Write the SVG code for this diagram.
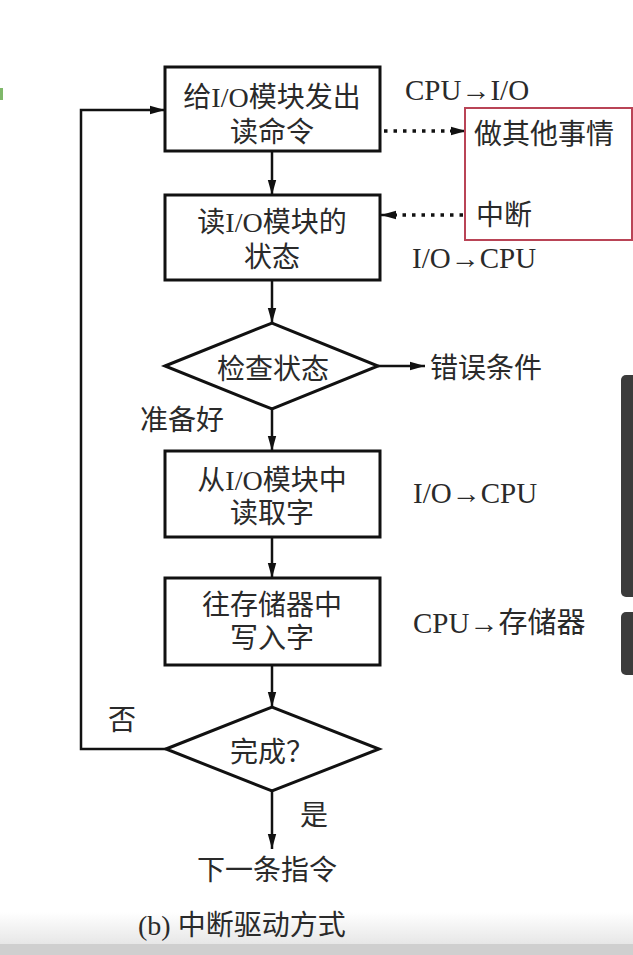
<svg xmlns="http://www.w3.org/2000/svg" width="633" height="955" viewBox="0 0 633 955">
<defs>
<style>
.t{font-family:"Liberation Serif","Noto Sans CJK SC",serif;font-size:28px;fill:#2a2a2a;dominant-baseline:central}
.s{font-size:29px}
.c{text-anchor:middle}
.box{fill:#fff;stroke:#111;stroke-width:3}
.ln{fill:none;stroke:#111;stroke-width:2.5}
.dot{fill:none;stroke:#111;stroke-width:3.5;stroke-dasharray:3.5 6}
</style>
<marker id="ah" markerUnits="userSpaceOnUse" markerWidth="16" markerHeight="10" refX="15" refY="5" orient="auto">
<path d="M0,0.8 L15,5 L0,9.2 z" fill="#111"/>
</marker>
<linearGradient id="bg" x1="0" y1="0" x2="0" y2="1">
<stop offset="0" stop-color="#fff"/>
<stop offset="1" stop-color="#e6e6e6"/>
</linearGradient>
</defs>
<rect width="633" height="955" fill="#fff"/>
<rect x="0" y="912" width="633" height="33" fill="url(#bg)"/>
<rect x="0" y="944" width="633" height="11" fill="#cfcfcf"/>
<rect x="621" y="375" width="20" height="222" rx="5" fill="#3b3b3b"/>
<rect x="621" y="612" width="20" height="63" rx="5" fill="#3b3b3b"/>
<rect x="0" y="88" width="3" height="12" fill="#7fb86a"/>

<g id="connectors">
<line class="ln" x1="272" y1="151" x2="272" y2="195" marker-end="url(#ah)"/>
<line class="ln" x1="272" y1="280" x2="272" y2="323" marker-end="url(#ah)"/>
<line class="ln" x1="378" y1="366" x2="425" y2="366" marker-end="url(#ah)"/>
<line class="ln" x1="272" y1="409" x2="272" y2="451" marker-end="url(#ah)"/>
<line class="ln" x1="272" y1="537" x2="272" y2="578" marker-end="url(#ah)"/>
<line class="ln" x1="272" y1="665" x2="272" y2="707" marker-end="url(#ah)"/>
<line class="ln" x1="272" y1="791" x2="272" y2="849" marker-end="url(#ah)"/>
<polyline class="ln" points="166,749 81,749 81,110 165,110" marker-end="url(#ah)"/>
<line class="dot" x1="384" y1="131" x2="452" y2="131"/>
<line class="ln" x1="450" y1="131" x2="466" y2="131" marker-end="url(#ah)"/>
<line class="dot" x1="463" y1="215" x2="395" y2="215"/>
<line class="ln" x1="397" y1="215" x2="381" y2="215" marker-end="url(#ah)"/>
</g>

<g id="box1">
<rect class="box" x="165" y="67" width="215" height="84"/>
<text class="t c" x="272" y="97">给I/O模块发出</text>
<text class="t c" x="272" y="132">读命令</text>
</g>
<g id="box2">
<rect class="box" x="165" y="195" width="215" height="85"/>
<text class="t c" x="272" y="222">读I/O模块的</text>
<text class="t c" x="272" y="257">状态</text>
</g>
<g id="check">
<polygon class="box" points="165,366 272,323 378,366 272,409"/>
<text class="t c" x="273" y="369">检查状态</text>
</g>
<g id="box3">
<rect class="box" x="165" y="451" width="215" height="86"/>
<text class="t c" x="272" y="480">从I/O模块中</text>
<text class="t c" x="272" y="513">读取字</text>
</g>
<g id="box4">
<rect class="box" x="165" y="578" width="215" height="87"/>
<text class="t c" x="272" y="605">往存储器中</text>
<text class="t c" x="272" y="638">写入字</text>
</g>
<g id="done">
<polygon class="box" points="166,749 272,707 379,749 272,791"/>
<text class="t c" x="272" y="752">完成？</text>
</g>
<g id="other">
<rect x="465" y="108" width="167" height="132" fill="none" stroke="#b94456" stroke-width="2"/>
<text class="t" x="474" y="134">做其他事情</text>
<text class="t" x="476" y="215">中断</text>
</g>
<g id="labels">
<text class="t s" x="405" y="90">CPU→I/O</text>
<text class="t s" x="412" y="258">I/O→CPU</text>
<text class="t" x="430" y="368">错误条件</text>
<text class="t" x="140" y="420">准备好</text>
<text class="t s" x="413" y="493">I/O→CPU</text>
<text class="t s" x="413" y="623">CPU→存储器</text>
<text class="t" x="108" y="720">否</text>
<text class="t" x="300" y="815">是</text>
<text class="t c" x="267" y="870">下一条指令</text>
<text class="t" x="138" y="925">(b) 中断驱动方式</text>
</g>
</svg>
